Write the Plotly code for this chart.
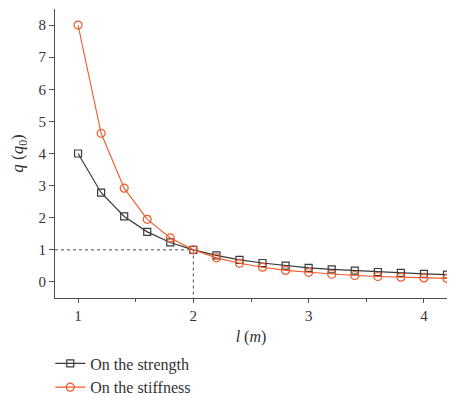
import plotly.graph_objects as go

# span l (m)
l_values = [1.0, 1.2, 1.4, 1.6, 1.8, 2.0, 2.2, 2.4, 2.6, 2.8, 3.0, 3.2, 3.4, 3.6, 3.8, 4.0, 4.2]

# load q (q0)
q_strength = [4.0, 2.78, 2.04, 1.56, 1.23, 1.0, 0.83, 0.69, 0.59, 0.51, 0.44, 0.39, 0.35, 0.31, 0.28, 0.25, 0.23]
q_stiffness = [8.0, 4.63, 2.92, 1.95, 1.37, 1.0, 0.75, 0.58, 0.46, 0.36, 0.30, 0.24, 0.20, 0.17, 0.15, 0.125, 0.11]

x_ticks = [1, 2, 3, 4]
y_ticks = [0, 1, 2, 3, 4, 5, 6, 7, 8]

serif = "Liberation Serif, Times New Roman, serif"
black = "#3a3a3a"
orange = "#ee5a2a"
grey = "#4d4d4d"

fig = go.Figure()

# dotted guide lines at l=2, q=1
fig.add_trace(go.Scatter(x=[0.8, 2, 2], y=[1, 1, -0.5], mode="lines",
                         line=dict(color=grey, width=1, dash="dot"),
                         showlegend=False, hoverinfo="skip"))

fig.add_trace(go.Scatter(x=l_values, y=q_strength, mode="lines+markers",
                         name="On the strength",
                         line=dict(color=black, width=1.2),
                         marker=dict(symbol="square-open", size=7, color=black,
                                     line=dict(width=1.2))))
fig.add_trace(go.Scatter(x=l_values, y=q_stiffness, mode="lines+markers",
                         name="On the stiffness",
                         line=dict(color=orange, width=1.1),
                         marker=dict(symbol="circle-open", size=8, color=orange,
                                     line=dict(width=1.2))))

# page body has an 8px margin, so the figure is a little smaller than the window
fig.update_layout(
    width=458, height=394,
    margin=dict(l=47, r=19, t=1, b=104),
    plot_bgcolor="white", paper_bgcolor="white",
    font=dict(family=serif, size=15, color="#333333"),
    legend=dict(x=-0.012, y=0.141, xanchor="left", yanchor="top", yref="container",
                font=dict(family=serif, size=16, color="#333333"),
                tracegroupgap=0, itemwidth=30),
)

fig.update_xaxes(range=[0.8, 4.2], tickvals=x_ticks, ticks="outside", ticklen=4,
                 showline=True, linecolor=grey, linewidth=1,
                 showgrid=False, zeroline=False, automargin=False,
                 tickfont=dict(family=serif, size=15, color="#333333"),
                 minor=dict(tickvals=[1.5, 2.5, 3.5], ticks="outside", ticklen=3,
                            tickcolor=grey),
                 tickcolor=grey,
                 title=dict(text="<i>l</i> (<i>m</i>)", standoff=9,
                            font=dict(family=serif, size=16, color="#333333")))
fig.update_yaxes(range=[-0.5, 8.5], tickvals=y_ticks, ticks="outside", ticklen=5,
                 showline=True, linecolor=grey, linewidth=1,
                 showgrid=False, zeroline=False, automargin=False,
                 tickcolor=grey,
                 tickfont=dict(family=serif, size=15, color="#333333"),
                 title=dict(text="<i>q</i> (<i>q</i><sub>0</sub>)", standoff=12,
                            font=dict(family=serif, size=17, color="#333333")))

fig.write_html("out.html")
